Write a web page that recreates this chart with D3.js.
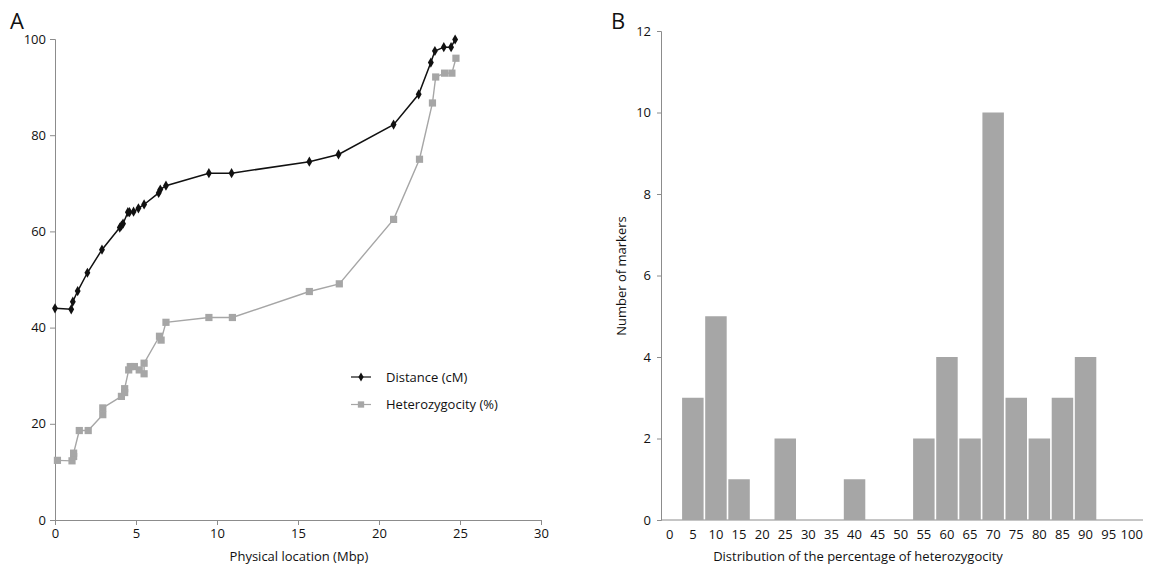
<!DOCTYPE html>
<html>
<head>
<meta charset="utf-8">
<script src="https://cdn.jsdelivr.net/npm/d3@7"></script>
<style>
  body { margin: 0; background: #fff; }
  text { font-family: "Open Sans", "Noto Sans", sans-serif; fill: #111; }
</style>
</head>
<body>
<script>
// Panel A: physical location (Mbp) vs distance / heterozygocity
const distX = [0, 1.0, 1.1, 1.4, 2.0, 2.9, 4.0, 4.1, 4.2, 4.5, 4.6, 4.85, 5.15, 5.5, 6.4, 6.5, 6.85, 9.5, 10.9, 15.7, 17.5, 20.9, 22.45, 23.2, 23.45, 24.0, 24.45, 24.7];
const distY = [44, 43.8, 45.4, 47.6, 51.4, 56.2, 60.8, 61.2, 61.6, 64.0, 64.0, 64.1, 64.8, 65.6, 68.0, 68.7, 69.5, 72.1, 72.1, 74.5, 76.0, 82.2, 88.5, 95.1, 97.5, 98.3, 98.3, 99.9];
const hetX = [0.15, 1.05, 1.15, 1.15, 1.5, 2.05, 2.95, 2.95, 4.1, 4.3, 4.3, 4.55, 4.65, 4.9, 5.2, 5.5, 5.5, 6.45, 6.55, 6.85, 9.5, 10.95, 15.7, 17.55, 20.9, 22.5, 23.3, 23.5, 24.05, 24.5, 24.75];
const hetY = [12.4, 12.3, 13.2, 13.9, 18.6, 18.6, 21.9, 23.3, 25.7, 26.5, 27.3, 31.2, 31.9, 31.9, 31.2, 30.4, 32.6, 38.2, 37.4, 41.1, 42.1, 42.1, 47.5, 49.1, 62.5, 75.0, 86.7, 92.1, 92.9, 92.9, 96.0];
const seriesNames = ["Distance (cM)", "Heterozygocity (%)"];

// Panel B: histogram of heterozygosity percentage
const binLabels = [0, 5, 10, 15, 20, 25, 30, 35, 40, 45, 50, 55, 60, 65, 70, 75, 80, 85, 90, 95, 100];
const binCounts = [0, 3, 5, 1, 0, 2, 0, 0, 1, 0, 0, 2, 4, 2, 10, 3, 2, 3, 4, 0, 0];

const width = 1149, height = 567;
const axisColor = "#8c8c8c";
const grey = "#a6a6a6";

const svg = d3.select("body").append("svg")
    .attr("width", width)
    .attr("height", height);

// ---------- Panel A ----------
const xA = d3.scaleLinear().domain([0, 30]).range([55, 541]);
const yA = d3.scaleLinear().domain([0, 100]).range([520, 39]);

const gxA = svg.append("g")
    .attr("transform", `translate(0,${yA(0)})`)
    .call(d3.axisBottom(xA).tickValues(d3.range(0, 31, 5)).tickSize(5).tickPadding(4));
const gyA = svg.append("g")
    .attr("transform", `translate(${xA(0)},0)`)
    .call(d3.axisLeft(yA).tickValues(d3.range(0, 101, 20)).tickSize(5).tickPadding(4));

[gxA, gyA].forEach(g => {
    g.selectAll("path, line").attr("stroke", axisColor);
    g.selectAll("text").attr("font-size", 13).attr("fill", "#111")
        .style("font-family", '"Open Sans", sans-serif');
});

const distData = distX.map((x, i) => ({x: x, y: distY[i]}));
const hetData = hetX.map((x, i) => ({x: x, y: hetY[i]}));

const line = d3.line().x(d => xA(d.x)).y(d => yA(d.y));

svg.append("path").datum(hetData)
    .attr("fill", "none").attr("stroke", grey).attr("stroke-width", 1.4)
    .attr("d", line);
svg.append("path").datum(distData)
    .attr("fill", "none").attr("stroke", "#111").attr("stroke-width", 1.5)
    .attr("d", line);

const square = d3.symbol().type(d3.symbolSquare).size(52);
const diamond = d3.symbol().type(d3.symbolDiamond).size(30);

svg.selectAll(".het").data(hetData).join("path")
    .attr("class", "het")
    .attr("d", square)
    .attr("fill", grey)
    .attr("transform", d => `translate(${xA(d.x)},${yA(d.y)})`);
svg.selectAll(".dist").data(distData).join("path")
    .attr("class", "dist")
    .attr("d", diamond)
    .attr("fill", "#111")
    .attr("transform", d => `translate(${xA(d.x)},${yA(d.y)})`);

// legend
const legend = svg.append("g").attr("transform", "translate(351,377)");
[{name: seriesNames[0], color: "#111", sym: d3.symbol().type(d3.symbolDiamond).size(24)},
 {name: seriesNames[1], color: grey, sym: d3.symbol().type(d3.symbolSquare).size(40)}].forEach((s, i) => {
    const g = legend.append("g").attr("transform", `translate(0,${i * 27.5})`);
    g.append("line").attr("x1", 0).attr("x2", 20).attr("y1", 0).attr("y2", 0)
        .attr("stroke", s.color).attr("stroke-width", 1.2);
    g.append("path").attr("d", s.sym).attr("fill", s.color)
        .attr("transform", "translate(10,0)");
    g.append("text").attr("x", 35).attr("y", 4.5).attr("font-size", 13).text(s.name);
});

svg.append("text").attr("x", xA(0) + (xA(30) - xA(0)) / 2 + 1).attr("y", 561)
    .attr("text-anchor", "middle").attr("font-size", 13)
    .text("Physical location (Mbp)");
svg.append("text").attr("x", 10).attr("y", 29).attr("font-size", 22).text("A");

// ---------- Panel B ----------
const xB = d3.scaleBand().domain(binLabels).range([657.5, 1144]).paddingInner(0.07).paddingOuter(0.065);
const yB = d3.scaleLinear().domain([0, 12]).range([520, 31]);

const gxB = svg.append("g")
    .attr("transform", `translate(0,${yB(0)})`)
    .call(d3.axisBottom(xB).tickSize(0).tickPadding(10));
gxB.select(".domain").attr("d", `M661,0H1143`);
const gyB = svg.append("g")
    .attr("transform", "translate(661,0)")
    .call(d3.axisLeft(yB).tickValues(d3.range(0, 13, 2)).tickSize(4).tickPadding(6));

[gxB, gyB].forEach(g => {
    g.selectAll("path, line").attr("stroke", axisColor);
    g.selectAll("text").attr("font-size", 13).attr("fill", "#111")
        .style("font-family", '"Open Sans", sans-serif');
});

svg.selectAll(".bar").data(binLabels.map((b, i) => ({b: b, c: binCounts[i]})).filter(d => d.c > 0))
    .join("rect")
    .attr("class", "bar")
    .attr("x", d => xB(d.b))
    .attr("width", xB.bandwidth())
    .attr("y", d => yB(d.c))
    .attr("height", d => yB(0) - yB(d.c))
    .attr("fill", grey);

svg.append("text").attr("x", 858).attr("y", 561)
    .attr("text-anchor", "middle").attr("font-size", 13)
    .text("Distribution of the percentage of heterozygocity");
svg.append("text")
    .attr("transform", "translate(626,276) rotate(-90)")
    .attr("text-anchor", "middle").attr("font-size", 13)
    .text("Number of markers");
svg.append("text").attr("x", 611).attr("y", 29).attr("font-size", 22).text("B");
</script>
</body>
</html>
